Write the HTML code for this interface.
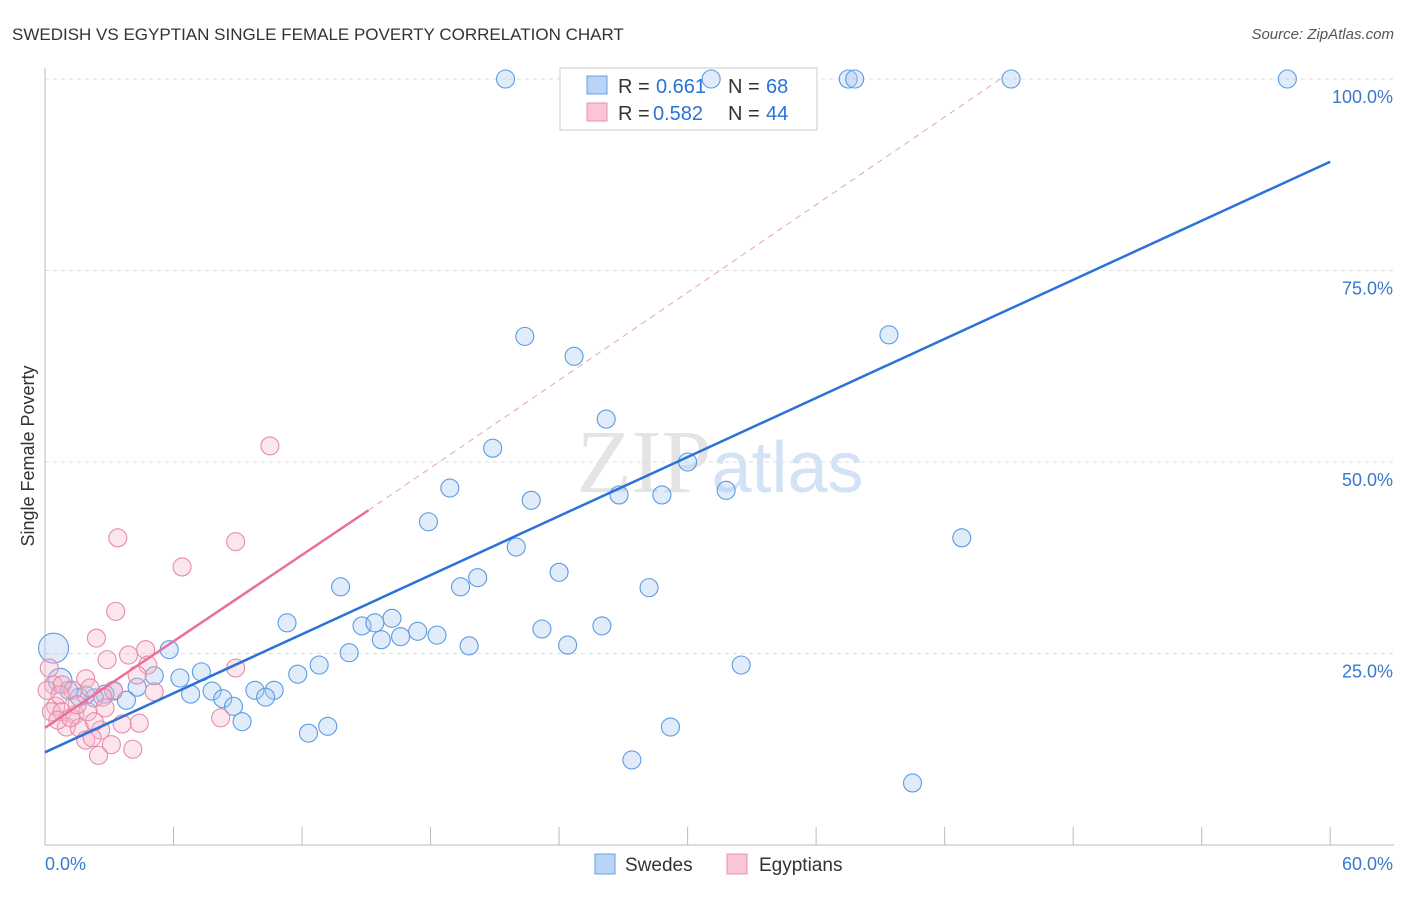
<!DOCTYPE html>
<html><head><meta charset="utf-8"><style>
body{margin:0;background:#fff;font-family:"Liberation Sans",sans-serif;}
</style></head><body>
<svg id="chart" width="1406" height="892" xmlns="http://www.w3.org/2000/svg" font-family="Liberation Sans, sans-serif">
<text x="12" y="40" font-size="17" fill="#333">SWEDISH VS EGYPTIAN SINGLE FEMALE POVERTY CORRELATION CHART</text>
<text x="1394" y="39" font-size="15" fill="#555" font-style="italic" text-anchor="end">Source: ZipAtlas.com</text>
<text x="720" y="492" font-size="90" fill="#e4e4e4" text-anchor="middle" font-family="Liberation Serif, serif">ZIP<tspan fill="#d3e2f4" font-family="Liberation Sans, sans-serif" font-size="72">atlas</tspan></text>
<text transform="translate(34,456) rotate(-90)" font-size="18" fill="#333" text-anchor="middle">Single Female Poverty</text>
<g id="grid"></g><g id="axes"></g>
<g>
<rect x="560" y="68" width="257" height="62" fill="#fff" stroke="#ccc"/>
<rect x="587" y="76" width="20" height="18" fill="#b8d3f5" stroke="#6aa0e0"/>
<text x="618" y="93" font-size="20" fill="#333">R =</text><text x="656" y="93" font-size="20" fill="#2a72d8">0.661</text>
<text x="728" y="93" font-size="20" fill="#333">N =</text><text x="766" y="93" font-size="20" fill="#2a72d8">68</text>
<rect x="587" y="103" width="20" height="18" fill="#f8c6d6" stroke="#e890b0"/>
<text x="618" y="120" font-size="20" fill="#333">R =</text><text x="653" y="120" font-size="20" fill="#2a72d8">0.582</text>
<text x="728" y="120" font-size="20" fill="#333">N =</text><text x="766" y="120" font-size="20" fill="#2a72d8">44</text>
</g>
<g id="marks"></g>
<g>
<rect x="595" y="854" width="20" height="20" fill="#b8d3f5" stroke="#6aa0e0"/>
<text x="625" y="871" font-size="19" fill="#333">Swedes</text>
<rect x="727" y="854" width="20" height="20" fill="#f8c6d6" stroke="#e890b0"/>
<text x="759" y="871" font-size="19" fill="#333">Egyptians</text>
</g>
</svg>
<script>
const blueX=[21.5,31.1,37.5,37.8,45.1,58.0,22.4,24.7,39.4,26.2,20.9,30.0,18.9,22.7,26.8,28.8,31.8,17.9,22.0,42.8,24.0,20.2,19.4,13.8,28.2,11.3,16.2,14.8,15.4,17.4,16.6,18.3,15.7,14.2,23.2,26.0,24.4,19.8,12.8,11.8,32.5,5.8,7.3,6.3,5.1,4.3,3.2,2.8,6.8,7.8,8.3,8.8,9.8,10.7,10.3,9.2,12.3,13.2,3.8,2.3,1.6,1.1,0.7,0.4,27.4,29.2,40.5,1.9];
const blueY=[100,100,100,100,100,100,66.4,63.8,66.6,55.6,51.8,50.0,46.6,45.0,45.7,45.7,46.3,42.2,38.9,40.1,35.6,34.9,33.7,33.7,33.6,29.0,29.6,28.6,29.0,27.9,27.2,27.4,26.8,25.1,28.2,28.6,26.1,26.0,23.5,22.3,23.5,25.5,22.6,21.8,22.1,20.6,20.1,19.7,19.7,20.1,19.1,18.1,20.2,20.2,19.3,16.1,14.6,15.5,18.9,19.2,19.3,20.2,21.5,25.7,11.1,15.4,8.1,19.6];
const pinkX=[10.5,3.4,8.9,6.4,3.3,2.4,4.7,3.9,2.9,4.8,4.3,1.9,0.2,0.4,0.8,1.3,2.1,3.2,5.1,2.7,0.5,0.3,0.8,1.4,2.0,2.8,1.0,1.6,4.4,3.6,8.2,2.6,1.9,2.2,3.1,2.5,4.1,8.9,0.6,1.2,0.1,0.7,1.5,2.3];
const pinkY=[52.1,40.1,39.6,36.3,30.5,27.0,25.5,24.8,24.2,23.5,22.2,21.7,23.1,20.9,20.9,20.2,20.5,20.2,20.0,19.3,18.1,17.4,17.4,17.0,17.4,17.9,15.4,15.3,15.9,15.8,16.6,15.0,13.7,14.0,13.1,11.7,12.5,23.1,16.3,16.6,20.2,19.6,18.3,16.1];
const yTicks=[25,50,75,100];
const xTickVals=[0,6,12,18,24,30,36,42,48,54,60];
const blueLine=[[0,12.1],[60,89.2]];
const pinkLine=[[0,15.3],[15.1,43.7]];
const pinkDash=[[15.1,43.7],[44.6,100]];
const X=v=>45+v*21.42, Y=v=>845-v*7.66;
const NS="http://www.w3.org/2000/svg";
function mk(t,a,p){const e=document.createElementNS(NS,t);for(const k in a)e.setAttribute(k,a[k]);p.appendChild(e);return e;}
const grid=document.getElementById('grid'),axes=document.getElementById('axes'),marks=document.getElementById('marks');
yTicks.forEach(t=>{const l=mk('line',{x1:45,x2:1394,y1:Y(t),y2:Y(t),stroke:'#ddd','stroke-dasharray':'4,4'},grid);

const tx=mk('text',{x:1393,y:Y(t)+24,'font-size':18,fill:'#3a78d0','text-anchor':'end'},axes);tx.textContent=t.toFixed(1)+'%';
});
let a=mk('line',{x1:45,x2:45,y1:68,y2:845,stroke:'#bbb'},axes);
a=mk('line',{x1:45,x2:1394,y1:845,y2:845,stroke:'#bbb'},axes);
xTickVals.forEach(t=>{const l=mk('line',{x1:X(t),x2:X(t),y1:827,y2:845,stroke:'#bbb'},axes);});
let t1=mk('text',{x:45,y:870,'font-size':18,fill:'#3a78d0'},axes);t1.textContent='0.0%';
t1=mk('text',{x:1393,y:870,'font-size':18,fill:'#3a78d0','text-anchor':'end'},axes);t1.textContent='60.0%';
function dots(xs,ys,fill,stroke,name){xs.forEach((x,i)=>{const r=(name==='swede-point'&&x<1&&ys[i]>21)?(ys[i]>25?15:12):9;
const c=mk('circle',{cx:X(x),cy:Y(ys[i]),r:r,fill:fill,'fill-opacity':0.35,stroke:stroke,'stroke-width':1.1},marks);
});}
dots(blueX,blueY,'#a8c8f0','#5b9be0','swede-point');
dots(pinkX,pinkY,'#f5b8cc','#e88aaa','egyptian-point');
let ln=mk('line',{x1:X(pinkDash[0][0]),y1:Y(pinkDash[0][1]),x2:X(pinkDash[1][0]),y2:Y(pinkDash[1][1]),stroke:'#e8a0b8','stroke-dasharray':'6,5','stroke-width':1},marks);

ln=mk('line',{x1:X(blueLine[0][0]),y1:Y(blueLine[0][1]),x2:X(blueLine[1][0]),y2:Y(blueLine[1][1]),stroke:'#2a72d8','stroke-width':2.5},marks);

ln=mk('line',{x1:X(pinkLine[0][0]),y1:Y(pinkLine[0][1]),x2:X(pinkLine[1][0]),y2:Y(pinkLine[1][1]),stroke:'#e8709a','stroke-width':2.5},marks);

</script>
</body></html>
